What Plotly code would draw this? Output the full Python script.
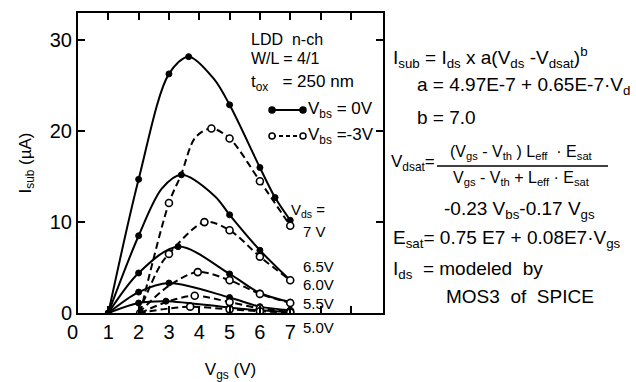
import plotly.graph_objects as go

# ---------------- data ----------------
# Vbs = 0 V (solid, filled markers); flag 1 = marker drawn at that point
VGS_S70 = [1, 2, 3, 3.65, 4.47, 5, 6, 6.5, 7]
ISUB_S70 = [0, 14.7, 26.3, 28.2, 25.8, 22.9, 16.0, 12.7, 10.2]
MARK_S70 = [1, 1, 1, 1, 0, 1, 1, 1, 1]

VGS_S65 = [1, 2, 2.77, 3.41, 4.53, 5, 6, 7]
ISUB_S65 = [0, 8.5, 13.7, 15.2, 12.8, 10.8, 6.9, 3.6]
MARK_S65 = [1, 1, 0, 1, 0, 1, 1, 1]

VGS_S60 = [1, 2, 3.3, 5, 6, 7]
ISUB_S60 = [0, 4.4, 7.3, 4.3, 2.2, 1.2]
MARK_S60 = [1, 1, 1, 1, 1, 1]

VGS_S55 = [1, 2, 3, 5, 6, 7]
ISUB_S55 = [0, 2.3, 3.3, 1.7, 0.7, 0.3]
MARK_S55 = [1, 1, 1, 1, 1, 1]

VGS_S50 = [1, 2, 2.9, 5, 6, 7]
ISUB_S50 = [0, 1.1, 1.3, 0.6, 0.3, 0.1]
MARK_S50 = [1, 1, 1, 1, 1, 1]

# Vbs = -3 V (dashed, open markers)
VGS_D70 = [2.05, 3, 3.4, 3.87, 4.4, 5, 6, 7]
ISUB_D70 = [0, 12.1, 15.2, 19.3, 20.3, 19.2, 14.5, 9.6]
MARK_D70 = [1, 1, 0, 0, 1, 1, 1, 1]

VGS_D65 = [2.0, 2.72, 3, 4.17, 5, 6, 7]
ISUB_D65 = [0, 5.3, 6.5, 10.0, 9.1, 6.2, 3.6]
MARK_D65 = [0, 0, 1, 1, 1, 1, 1]

VGS_D60 = [2.0, 3, 3.95, 5, 6, 7]
ISUB_D60 = [0, 3.0, 4.5, 3.6, 2.1, 1.1]
MARK_D60 = [0, 0, 1, 1, 1, 1]

VGS_D55 = [2.05, 3, 3.85, 5, 6, 7]
ISUB_D55 = [0, 1.3, 1.9, 1.2, 0.5, 0.2]
MARK_D55 = [0, 0, 1, 1, 1, 1]

VGS_D50 = [2.0, 3, 3.7, 5, 6, 7]
ISUB_D50 = [0, 0.5, 0.7, 0.4, 0.2, 0.05]
MARK_D50 = [0, 0, 1, 1, 1, 1]

X_TICKS = [0, 1, 2, 3, 4, 5, 6, 7, 8, 9]
X_TICK_TEXT = ["0\u00a0\u00a0", "1", "2", "3", "4", "5", "6", "7", "", ""]
Y_TICKS = [0, 10, 20, 30]
VDS_LABELS = ["7 V", "6.5V", "6.0V", "5.5V", "5.0V"]

# ---------------- layout geometry ----------------
W, H = 636, 382
L, R, T, B = 78, 253, 13, 69
FONT = "Liberation Sans"


def px(xp):
    return (xp - L) / (W - L - R)


def py(yp):
    return 1 - (yp - T) / (H - T - B)


fig = go.Figure()

solid = [(VGS_S70, ISUB_S70, MARK_S70), (VGS_S65, ISUB_S65, MARK_S65),
         (VGS_S60, ISUB_S60, MARK_S60), (VGS_S55, ISUB_S55, MARK_S55),
         (VGS_S50, ISUB_S50, MARK_S50)]
dashed = [(VGS_D70, ISUB_D70, MARK_D70), (VGS_D65, ISUB_D65, MARK_D65),
          (VGS_D60, ISUB_D60, MARK_D60), (VGS_D55, ISUB_D55, MARK_D55),
          (VGS_D50, ISUB_D50, MARK_D50)]

for xs, ys, mk in solid:
    fig.add_trace(go.Scatter(
        x=xs, y=ys, mode="lines+markers",
        line=dict(color="black", width=2, shape="spline", smoothing=0.9),
        marker=dict(symbol="circle", size=[6 if m else 0 for m in mk],
                    color="black", opacity=1, line=dict(width=1, color="black")),
        showlegend=False, hoverinfo="skip"))

for xs, ys, mk in dashed:
    fig.add_trace(go.Scatter(
        x=xs, y=ys, mode="lines+markers",
        line=dict(color="black", width=2, dash="7px,4px", shape="spline", smoothing=0.9),
        marker=dict(symbol="circle", size=[7 if m else 0 for m in mk],
                    color="white", opacity=1, line=dict(width=1.6, color="black")),
        showlegend=False, hoverinfo="skip"))

fig.update_layout(
    width=W, height=H,
    margin=dict(l=L, r=R, t=T, b=B, autoexpand=False),
    paper_bgcolor="white", plot_bgcolor="white",
    font=dict(family=FONT, color="black", size=16),
    showlegend=False,
    xaxis=dict(range=[0, 10.06], tickvals=X_TICKS, ticktext=X_TICK_TEXT,
               ticks="inside", ticklen=7, tickwidth=1.5, tickcolor="black",
               showline=True, linewidth=2, linecolor="black", mirror="ticks",
               showgrid=False, zeroline=False, automargin=False,
               tickfont=dict(size=20, family=FONT),
               title=dict(text="V<sub>gs</sub> (V)", font=dict(size=17, family=FONT), standoff=24)),
    yaxis=dict(range=[0, 33.0], tickvals=Y_TICKS,
               ticks="inside", ticklen=7, tickwidth=1.5, tickcolor="black",
               showline=True, linewidth=2, linecolor="black", mirror="ticks",
               showgrid=False, zeroline=False, automargin=False,
               tickfont=dict(size=20, family=FONT),
               title=dict(text="I<sub>sub</sub> (µA)", font=dict(size=17, family=FONT), standoff=14)),
)

ann = []


def text(s, xp, yp, size=16, anchor="left"):
    ann.append(dict(text=s, x=px(xp), y=py(yp), xref="paper", yref="paper",
                    xanchor=anchor, yanchor="middle", showarrow=False,
                    font=dict(size=size, family=FONT, color="black")))


# in-plot notes
text("LDD  n-ch", 249, 39)
text("W/L = 4/1", 249, 58)
text("t<sub>ox</sub>   = 250 nm", 249, 83, size=17)
text("V<sub>bs</sub> = 0V", 306, 110, size=17)
text("V<sub>bs</sub> =-3V", 306, 136, size=17)
text("V<sub>ds</sub> =", 289, 210, size=15)
for lab, yp in zip(VDS_LABELS, [231, 266, 284.5, 303, 327]):
    text(lab, 301, yp, size=15)

# legend samples
shapes = []
for yp, dash, fill in [(110, "solid", "black"), (136, "4px,3px", "white")]:
    shapes.append(dict(type="line", xref="paper", yref="paper",
                       x0=px(272), x1=px(303), y0=py(yp), y1=py(yp),
                       line=dict(color="black", width=2, dash=dash)))
    for xp in (272, 303):
        shapes.append(dict(type="circle", xref="paper", yref="paper",
                           xsizemode="pixel", ysizemode="pixel",
                           xanchor=px(xp), yanchor=py(yp),
                           x0=-3, x1=3, y0=-3, y1=3,
                           fillcolor=fill, line=dict(color="black", width=1.5)))

# model equations on the right
text("I<sub>sub</sub> = I<sub>ds</sub> x a(V<sub>ds</sub> -V<sub>dsat</sub>)<sup>b</sup>", 391, 57, size=19)
text("a = 4.97E-7 + 0.65E-7·V<sub>d</sub>", 415, 86, size=19)
text("b = 7.0", 415, 117, size=19)
text("V<sub>dsat</sub>=", 389, 163, size=17)
text("(V<sub>gs</sub> - V<sub>th</sub> ) L<sub>eff</sub>  · E<sub>sat</sub>", 521, 152, size=16, anchor="center")
text("V<sub>gs</sub> - V<sub>th</sub> + L<sub>eff</sub> · E<sub>sat</sub>", 521, 178, size=16, anchor="center")
shapes.append(dict(type="line", xref="paper", yref="paper",
                   x0=px(437), x1=px(608), y0=py(166), y1=py(166),
                   line=dict(color="black", width=1.5)))
text("-0.23 V<sub>bs</sub>-0.17 V<sub>gs</sub>", 442, 210, size=19)
text("E<sub>sat</sub>= 0.75 E7 + 0.08E7·V<sub>gs</sub>", 391, 239, size=19)
text("I<sub>ds</sub>  = modeled  by", 391, 270, size=19)
text("MOS3  of  SPICE", 444, 296, size=19)

fig.update_layout(annotations=ann, shapes=shapes)

fig.write_html("out.html")
